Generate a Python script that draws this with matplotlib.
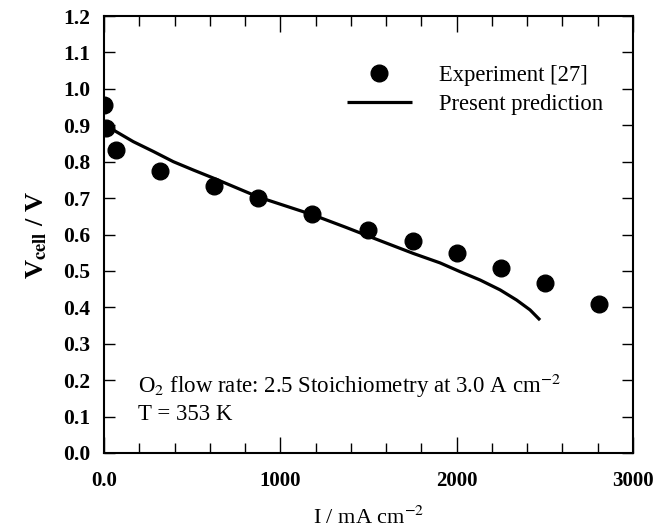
import matplotlib
matplotlib.use("Agg")
import matplotlib.pyplot as plt
import numpy as np

plt.rcParams['font.family'] = ['Liberation Serif', 'DejaVu Serif']
plt.rcParams['mathtext.fontset'] = 'stix'

# Experimental data
exp_I = [0, 10, 70, 320, 625, 875, 1180, 1500, 1750, 2000, 2250, 2500, 2810]
exp_V = [0.955, 0.893, 0.832, 0.775, 0.732, 0.700, 0.656, 0.612, 0.582, 0.549, 0.509, 0.467, 0.408]

# Model prediction
pred_I = [0, 15, 53, 166, 280, 393, 507, 620, 875, 1178, 1370, 1566, 1754, 1906, 2019, 2133, 2246, 2340, 2416, 2473]
pred_V = [0.908, 0.900, 0.887, 0.855, 0.828, 0.800, 0.777, 0.755, 0.703, 0.655, 0.620, 0.583, 0.548, 0.522, 0.498, 0.475, 0.448, 0.420, 0.393, 0.365]

fig = plt.figure(figsize=(6.53, 5.29), dpi=100)
ax = fig.add_axes([104/653, 1-453/529, (633-104)/653, (453-16)/529])

ax.plot(exp_I, exp_V, 'o', color='black', markersize=12, label='Experiment [27]', zorder=3)
ax.plot(pred_I, pred_V, '-', color='black', linewidth=2.3, label='Present prediction', zorder=2,
        solid_joinstyle='round', solid_capstyle='butt')

ax.set_xlim(0, 3000)
ax.set_ylim(0, 1.2)
ax.set_xticks([0, 1000, 2000, 3000])
ax.set_xticklabels(['0.0', '1000', '2000', '3000'])
ax.set_xticks(np.arange(0, 3001, 200), minor=True)
ax.set_yticks(np.arange(0, 1.21, 0.1))
ax.set_yticklabels([f'{v:.1f}' for v in np.arange(0, 1.21, 0.1)])

ax.tick_params(axis='x', which='major', direction='in', length=11.5, width=1, top=True, bottom=True, pad=13, labelsize=15)
ax.tick_params(axis='x', which='minor', direction='in', length=7, width=1, top=True, bottom=True)
ax.tick_params(axis='y', which='major', direction='in', length=8, width=1, left=True, right=True, pad=10, labelsize=15.5)
for lab in ax.get_xticklabels() + ax.get_yticklabels():
    lab.set_fontweight('bold')
for s in ax.spines.values():
    s.set_linewidth(1.5)

ax.set_xlabel(r'I / mA cm$^{-2}$', fontsize=16, labelpad=11)
ax.set_ylabel(r'V$_{\mathbf{cell}}$ / V', fontsize=19, fontweight='bold', labelpad=10)

ax.legend(loc='upper left', bbox_to_anchor=(0.42, 0.935), frameon=False, fontsize=16.3,
          handlelength=2.9, handletextpad=1.2, labelspacing=0.35, numpoints=1)

ax.text(0.065, 0.153, r'O$_2$ flow rate: 2.5 Stoichiometry at 3.0 A cm$^{-2}$', transform=ax.transAxes,
        fontsize=16.5, va='center', ha='left')
ax.text(0.065, 0.088, 'T = 353 K', transform=ax.transAxes, fontsize=16.5, va='center', ha='left')

fig.savefig('out.png', dpi=100)
